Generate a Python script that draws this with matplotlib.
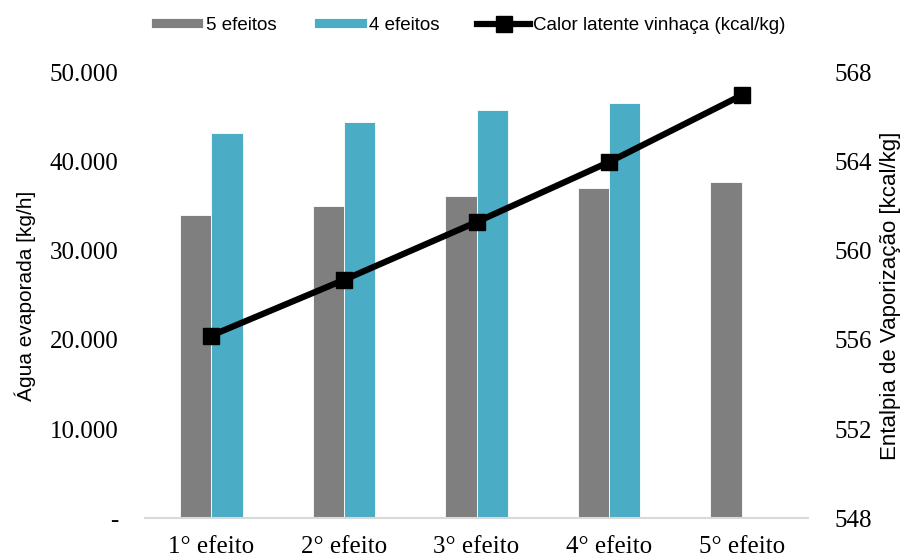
import matplotlib
matplotlib.use("Agg")
import matplotlib.pyplot as plt
import numpy as np
from matplotlib.ticker import FuncFormatter

categories = ["1° efeito", "2° efeito", "3° efeito", "4° efeito", "5° efeito"]
agua_5 = [34000, 35100, 36200, 37100, 37700]
agua_4 = [43300, 44500, 45800, 46600, np.nan]
calor = [556.2, 558.7, 561.3, 564.0, 567.0]
left_ticks = [0, 10000, 20000, 30000, 40000, 50000]
right_ticks = [548, 552, 556, 560, 564, 568]

GRAY = "#7F7F7F"
BLUE = "#4BACC6"
SERIF = "Liberation Serif"
SANS = "Liberation Sans"

fig = plt.figure(figsize=(9.12, 5.57), dpi=100)
ax = fig.add_axes([0.159, 0.070, 0.727, 0.799])
ax2 = ax.twinx()

x = np.arange(len(categories))
w = 0.236
b1 = ax.bar(x - w / 2, agua_5, width=w, color=GRAY, edgecolor="white", linewidth=0.6, label="5 efeitos", zorder=2)
b2 = ax.bar(x + w / 2, agua_4, width=w, color=BLUE, edgecolor="white", linewidth=0.6, label="4 efeitos", zorder=2)
ln, = ax2.plot(x, calor, color="black", lw=4.5, marker="s", markersize=11,
               label="Calor latente vinhaça (kcal/kg)", zorder=3)

ax.set_xlim(-0.5, 4.5)
ax.set_ylim(0, 50000)
ax2.set_ylim(548, 568)
ax.set_yticks(left_ticks)
ax2.set_yticks(right_ticks)
ax.yaxis.set_major_formatter(FuncFormatter(lambda v, p: "-" if v == 0 else f"{int(v):,}".replace(",", ".")))
ax.set_xticks(x)
ax.set_xticklabels(categories)

for a in (ax, ax2):
    for s in a.spines.values():
        s.set_visible(False)
    a.tick_params(length=0)
ax.spines["bottom"].set_visible(True)
ax.spines["bottom"].set_color("#D9D9D9")
ax.spines["bottom"].set_linewidth(1.5)

for lab in ax.get_yticklabels() + ax2.get_yticklabels() + ax.get_xticklabels():
    lab.set_fontfamily(SERIF)
    lab.set_fontsize(18)
ax.tick_params(axis="y", pad=19)
ax2.tick_params(axis="y", pad=19)
ax.tick_params(axis="x", pad=13)

ax.set_ylabel("Água evaporada [kg/h]", fontfamily=SANS, fontsize=15, labelpad=10)
ax2.set_ylabel("Entalpia de Vaporização [kcal/kg]", fontfamily=SANS, fontsize=16, labelpad=6)

leg = fig.legend(handles=[b1, b2, ln], loc="center", bbox_to_anchor=(0.513, 0.955), ncol=3,
                 frameon=False, prop={"family": SANS, "size": 13.5},
                 handlelength=2.8, handleheight=0.45, handletextpad=0.15, columnspacing=2.0)

fig.savefig("out.png", dpi=100)
